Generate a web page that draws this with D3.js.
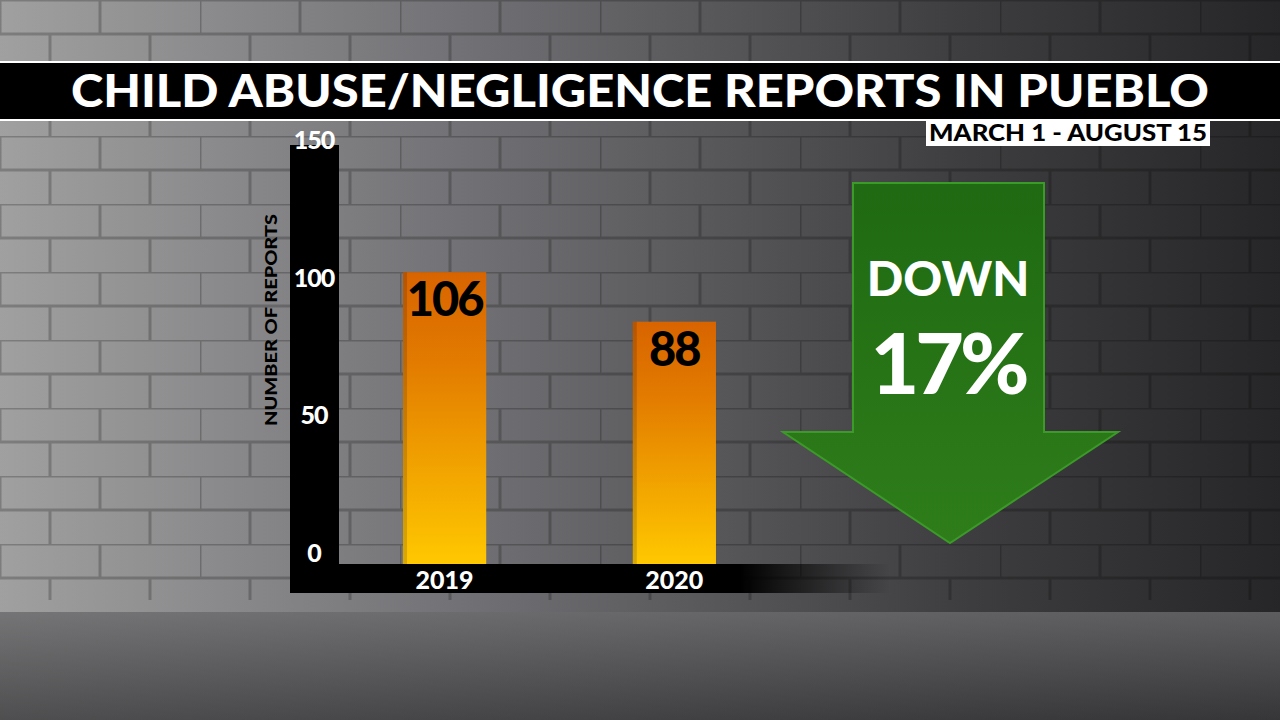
<!DOCTYPE html><html><head><meta charset="utf-8">
<script src="https://cdn.jsdelivr.net/npm/d3@7"></script>
<style>body{margin:0;background:#000}svg{display:block}</style></head><body>
<script>
const categories=["2019","2020"];
const values=[106,88];
const yTicks=[0,50,100,150];
const title="CHILD ABUSE/NEGLIGENCE REPORTS IN PUEBLO";
const subtitle="MARCH 1 - AUGUST 15";
const yLabel="NUMBER OF REPORTS";
const changeLines=["DOWN","17%"];

const W=1280,H=720,F="Lato, 'Open Sans', sans-serif";
const svg=d3.select("body").append("svg").attr("width",W).attr("height",H);
const defs=svg.append("defs");
const bg=defs.append("linearGradient").attr("id","bg");
bg.append("stop").attr("offset","0").attr("stop-color","#a0a0a0");
bg.append("stop").attr("offset","0.35").attr("stop-color","#737377");
bg.append("stop").attr("offset","0.75").attr("stop-color","#3e3e40");
bg.append("stop").attr("offset","1").attr("stop-color","#262628");
const pat=defs.append("pattern").attr("id","brick").attr("width",200).attr("height",68).attr("patternUnits","userSpaceOnUse");
pat.append("path").attr("d","M0 0H200M0 34H200M0 0V34M100 0V34M50 34V68M150 34V68").attr("stroke","rgba(0,0,0,0.22)").attr("stroke-width",3).attr("fill","none");
svg.append("rect").attr("width",W).attr("height",H).attr("fill","url(#bg)");
svg.append("rect").attr("width",W).attr("height",600).attr("fill","url(#brick)");
const fl=defs.append("linearGradient").attr("id","floor").attr("x1",0).attr("y1",0).attr("x2",0).attr("y2",1);
fl.append("stop").attr("offset","0").attr("stop-color","#6a6a6c");fl.append("stop").attr("offset","1").attr("stop-color","#3a3a3c");
svg.append("rect").attr("y",612).attr("width",W).attr("height",108).attr("fill","url(#floor)").attr("opacity",0.8);

// title band
svg.append("rect").attr("x",0).attr("y",61).attr("width",W).attr("height",60).attr("fill","#fff");
svg.append("rect").attr("x",0).attr("y",63).attr("width",W).attr("height",56).attr("fill","#000");
svg.append("text").attr("x",640).attr("y",107).attr("text-anchor","middle").attr("fill","#fff")
 .attr("font-family",F).attr("font-weight",900).attr("font-size",46).attr("textLength",1138).attr("lengthAdjust","spacingAndGlyphs").text(title);
svg.append("rect").attr("x",926).attr("y",121).attr("width",284).attr("height",25).attr("fill","#fff");
svg.append("text").attr("x",1068).attr("y",141).attr("text-anchor","middle").attr("fill","#000")
 .attr("font-family",F).attr("font-weight",900).attr("font-size",23).attr("textLength",278).attr("lengthAdjust","spacingAndGlyphs").text(subtitle);

// axes frame
const y=d3.scaleLinear().domain([0,150]).range([564,151]);
const x=d3.scaleBand().domain(categories).range([358,761]).paddingInner(0.638).paddingOuter(0.196);
const hg=defs.append("linearGradient").attr("id","hb");
hg.append("stop").attr("offset","0").attr("stop-color","#000");
hg.append("stop").attr("offset","0.75").attr("stop-color","#000");
hg.append("stop").attr("offset","1").attr("stop-color","#000").attr("stop-opacity",0);
svg.append("rect").attr("x",290).attr("y",564).attr("width",600).attr("height",29).attr("fill","url(#hb)");
svg.append("rect").attr("x",290).attr("y",145).attr("width",49).attr("height",448).attr("fill","#000");
svg.append("g").selectAll("text").data(yTicks).join("text").attr("x",314).attr("y",d=>y(d)-2)
 .attr("text-anchor","middle").attr("fill","#fff").attr("font-family",F).attr("font-weight",900).attr("font-size",25).attr("letter-spacing",-1).text(d=>d);
svg.append("text").attr("transform","translate(277,320) rotate(-90)").attr("text-anchor","middle").attr("fill","#000")
 .attr("font-family",F).attr("font-weight",900).attr("font-size",17).attr("textLength",212).attr("lengthAdjust","spacingAndGlyphs").text(yLabel);
svg.append("g").selectAll("text").data(categories).join("text").attr("x",d=>x(d)+x.bandwidth()/2).attr("y",589)
 .attr("text-anchor","middle").attr("fill","#fff").attr("font-family",F).attr("font-weight",900).attr("font-size",25).text(d=>d);

// bars
const bgd=defs.append("linearGradient").attr("id","bar").attr("x1",0).attr("y1",0).attr("x2",0).attr("y2",1);
bgd.append("stop").attr("offset","0").attr("stop-color","#d86400");
bgd.append("stop").attr("offset","0.3").attr("stop-color","#e27a00");
bgd.append("stop").attr("offset","1").attr("stop-color","#ffc800");
const bars=svg.append("g").selectAll("g").data(categories).join("g");
bars.append("rect").attr("x",d=>x(d)).attr("y",(d,i)=>y(values[i])).attr("width",x.bandwidth())
 .attr("height",(d,i)=>564-y(values[i])).attr("fill","url(#bar)");
bars.append("rect").attr("x",d=>x(d)).attr("y",(d,i)=>y(values[i])).attr("width",4)
 .attr("height",(d,i)=>564-y(values[i])).attr("fill","rgba(0,0,0,0.15)");
bars.append("text").attr("x",d=>x(d)+x.bandwidth()/2).attr("y",(d,i)=>y(values[i])+44)
 .attr("text-anchor","middle").attr("fill","#000").attr("font-family",F).attr("font-weight",900).attr("font-size",47).attr("letter-spacing",-2).text((d,i)=>values[i]);

// arrow
const ag=defs.append("linearGradient").attr("id","arr").attr("x1",0).attr("y1",0).attr("x2",0).attr("y2",1);
ag.append("stop").attr("offset","0").attr("stop-color","#1f6a12");
ag.append("stop").attr("offset","1").attr("stop-color","#2e7d1a");
svg.append("path").attr("d","M853 183H1044V432H1118L950 543L783 432H853Z").attr("fill","url(#arr)")
 .attr("stroke","#3c9a28").attr("stroke-width",2);
svg.append("text").attr("x",948).attr("y",296).attr("text-anchor","middle").attr("fill","#fff")
 .attr("font-family",F).attr("font-weight",900).attr("font-size",48).text(changeLines[0]);
svg.append("text").attr("x",948).attr("y",394).attr("text-anchor","middle").attr("fill","#fff")
 .attr("font-family",F).attr("font-weight",900).attr("font-size",84).attr("letter-spacing",-4).text(changeLines[1]);
</script></body></html>
